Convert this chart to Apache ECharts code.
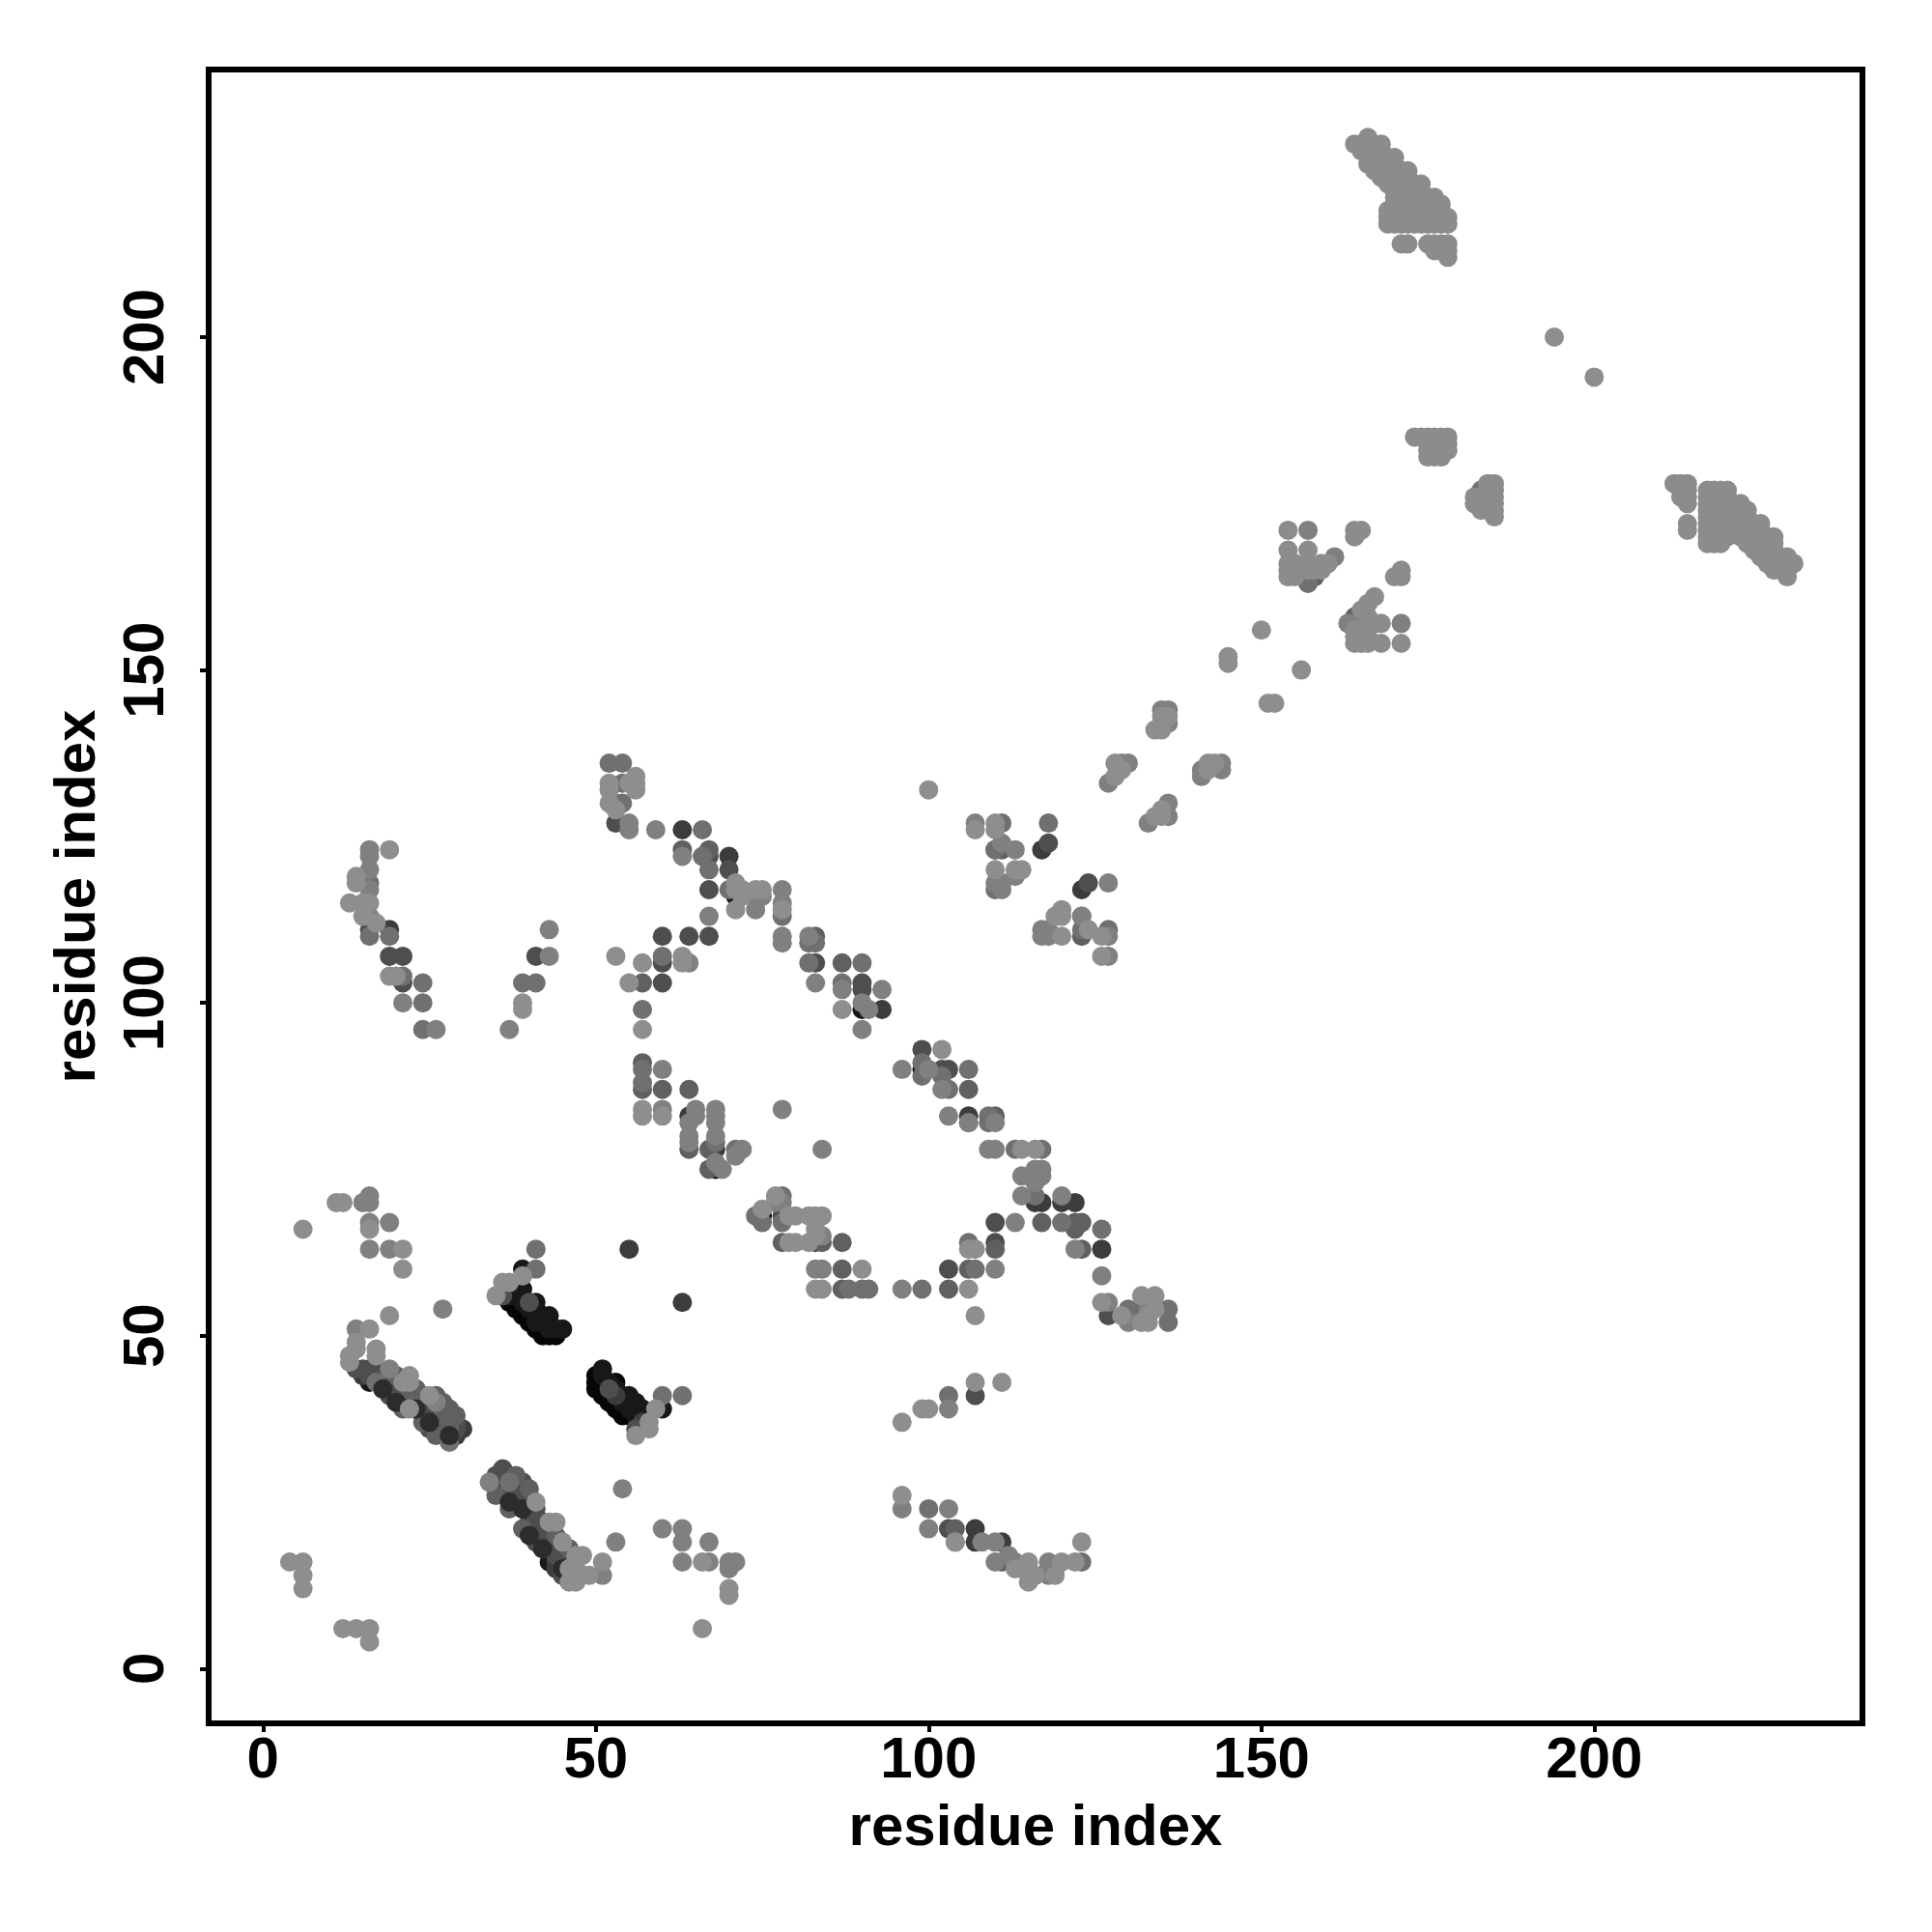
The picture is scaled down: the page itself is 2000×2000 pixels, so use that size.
<!DOCTYPE html>
<html>
<head>
<meta charset="utf-8">
<style>html,body{margin:0;padding:0;background:#fff}#c{width:2000px;height:2000px}</style>
<script src="https://cdn.jsdelivr.net/npm/echarts@6/dist/echarts.min.js"></script>
</head>
<body>
<div id="c"></div>
<script>
const axisTitle = 'residue index';
const tickValues = [0, 50, 100, 150, 200];

// Contacts as [residue i, residue j], grouped by grey level (darkest first).
const contactsGrey05 = [[38,54],[37,55],[38,55],[39,53],[40,52],[41,51],[42,53],[42,50],[43,50],[44,50],[50,44],[50,43],[50,42],[51,41],[52,40],[53,43],[53,39],[54,38],[75,68],[39,54],[40,53],[41,52],[42,51],[51,43],[51,42],[52,41],[53,40],[54,39],[55,38]];
const contactsGrey20 = [[39,60],[39,57],[38,57],[37,56],[41,55],[43,53],[45,51],[41,52],[51,45],[55,41],[57,39],[60,39],[56,38],[16,43],[20,41],[24,39],[26,37],[27,36],[37,26],[39,24],[44,19],[43,16],[68,75],[71,116],[90,99],[99,90],[39,56],[39,55],[40,54],[41,54],[42,52],[43,51],[44,51],[38,56],[51,44],[52,43],[52,42],[53,42],[54,41],[54,40],[55,40],[55,39],[56,40]];
const contactsGrey35 = [[53,41],[57,37],[19,42],[28,35],[29,35],[30,36],[36,27],[42,22],[43,19],[45,16],[64,83],[68,78],[117,70],[116,70],[123,117],[117,123],[126,63],[63,126],[63,55],[55,63],[70,122],[19,111],[106,83],[93,99],[111,19],[107,21],[107,19],[122,70],[120,70],[15,44],[18,43],[18,42],[21,40],[23,40],[23,39],[25,38],[25,37],[27,37],[28,37],[38,26],[38,25],[40,24],[40,23],[42,20],[42,19],[44,16],[44,15],[46,15]];
const contactsGrey4e = [[40,55],[36,56],[52,42],[56,36],[14,45],[17,45],[19,41],[36,30],[35,29],[35,28],[39,25],[41,23],[41,22],[40,21],[41,19],[44,17],[45,14],[83,64],[78,68],[103,60],[110,64],[110,67],[127,53],[107,41],[103,21],[53,127],[60,110],[64,110],[67,110],[67,117],[60,106],[60,103],[67,122],[70,120],[83,106],[90,103],[90,102],[102,90],[103,90],[99,93],[16,111],[19,107],[21,107],[21,103],[41,107],[118,124],[124,118],[15,45],[16,45],[16,44],[18,44],[19,44],[19,43],[20,43],[20,42],[21,42],[21,41],[22,42],[23,41],[24,40],[25,40],[25,39],[26,39],[26,38],[27,39],[28,38],[25,36],[26,36],[29,36],[29,37],[24,38],[36,29],[36,28],[37,29],[37,27],[38,28],[38,27],[39,26],[39,28],[40,26],[40,25],[41,24],[41,21],[42,21],[42,18],[43,21],[43,20],[43,18],[44,18],[45,18],[45,17],[45,15],[46,14]];
const contactsGrey60 = [[87,57],[103,57],[87,60],[106,60],[78,64],[84,64],[87,64],[117,67],[122,67],[123,67],[122,66],[110,63],[123,63],[35,26],[37,24],[40,27],[39,21],[38,29],[21,39],[24,37],[26,35],[29,38],[28,36],[27,38],[22,41],[20,44],[27,40],[111,16],[104,21],[123,110],[110,123],[111,123],[67,123],[63,123],[57,91],[57,103],[64,87],[60,87],[106,87],[87,106],[83,110],[110,83],[64,78],[67,78],[67,75],[57,87],[158,164],[164,158],[22,40],[23,42],[24,41],[26,41],[28,39],[44,20],[46,18]];
const contactsGrey70 = [[41,63],[41,60],[63,41],[60,41],[17,43],[28,34],[37,28],[78,67],[78,71],[88,57],[90,57],[91,57],[99,57],[107,60],[103,41],[100,24],[123,16],[75,67],[74,68],[52,136],[54,136],[53,130],[54,130],[54,133],[66,126],[66,122],[67,120],[70,117],[78,113],[60,107],[57,99],[57,90],[57,88],[71,78],[68,79],[83,109],[82,109],[82,106],[90,106],[87,103],[99,91],[99,89],[102,89],[103,87],[106,90],[109,83],[109,82],[106,82],[116,71],[117,78],[113,78],[16,118],[16,110],[19,110],[21,104],[24,103],[24,100],[24,96],[39,103],[41,103],[110,117],[111,127],[118,127],[123,111],[127,111],[136,54],[136,52],[132,54],[130,54],[126,66],[120,67],[106,64],[157,164],[157,163],[110,123],[123,113],[177,183],[183,177]];
const contactsBandDark = [[18,42],[20,40],[23,39],[25,37],[28,35],[37,25],[39,24],[40,20],[42,18],[45,15]];
const contactsGrey80 = [[16,71],[15,70],[16,70],[16,67],[19,67],[16,63],[19,63],[27,54],[14,51],[54,27],[34,28],[19,45],[53,19],[60,21],[63,21],[63,19],[67,19],[63,16],[67,16],[70,16],[71,16],[70,15],[51,14],[26,40],[103,39],[96,24],[103,24],[100,21],[104,19],[108,19],[110,19],[110,16],[112,17],[113,16],[118,16],[118,15],[119,15],[118,14],[83,60],[84,60],[96,57],[110,60],[113,67],[122,63],[126,59],[127,55],[130,52],[133,54],[84,65],[63,122],[64,106],[67,113],[55,126],[55,127],[59,126],[74,116],[74,114],[75,116],[78,117],[78,115],[78,110],[78,109],[82,110],[71,77],[68,76],[78,84],[78,70],[77,70],[84,78],[83,103],[87,102],[93,102],[90,100],[91,99],[90,96],[96,90],[100,90],[102,87],[106,82],[109,78],[110,78],[110,82],[116,75],[117,75],[114,74],[116,74],[117,74],[114,71],[120,71],[116,73],[16,120],[16,122],[16,123],[16,113],[16,117],[21,100],[26,96],[37,96],[43,107],[43,111],[60,84],[60,90],[64,82],[64,80],[64,79],[65,83],[65,84],[68,84],[68,83],[68,82],[68,80],[69,75],[72,78],[103,83],[107,127],[110,118],[111,124],[111,118],[111,117],[113,123],[113,119],[127,118],[117,111],[118,111],[117,110],[118,110],[123,113],[127,110],[127,107],[133,127],[136,128],[136,130],[127,133],[129,136],[130,136],[135,144],[136,144],[136,142],[141,134],[141,135],[144,136],[144,135],[163,157],[165,157],[171,157],[157,171],[161,167]];
const contactsGrey8c = [[4,16],[6,16],[6,14],[6,12],[12,6],[14,6],[16,6],[16,4],[6,66],[11,70],[12,70],[16,66],[21,63],[21,60],[19,53],[16,51],[14,49],[14,48],[13,47],[13,46],[17,48],[17,47],[22,44],[22,43],[21,43],[22,39],[25,41],[35,56],[36,58],[37,58],[39,59],[59,39],[58,37],[58,36],[56,35],[41,25],[43,22],[44,22],[45,19],[47,17],[48,17],[47,15],[48,14],[49,14],[51,16],[46,13],[47,13],[47,16],[46,15],[66,16],[70,12],[70,11],[66,6],[96,37],[99,39],[100,39],[107,43],[111,43],[96,26],[104,19],[113,15],[114,15],[115,16],[115,15],[115,13],[116,14],[119,14],[120,16],[122,16],[123,19],[83,57],[84,57],[90,60],[106,57],[107,53],[107,63],[106,63],[126,55],[129,53],[132,56],[134,56],[132,52],[133,52],[133,53],[134,54],[75,69],[79,68],[80,68],[82,68],[83,68],[84,68],[79,64],[80,64],[82,64],[83,65],[83,66],[77,71],[52,133],[52,132],[56,134],[56,133],[56,132],[55,133],[52,130],[53,129],[71,118],[71,117],[72,117],[72,116],[71,114],[74,117],[75,117],[78,114],[53,107],[57,106],[63,107],[63,106],[55,103],[57,96],[57,84],[57,83],[60,83],[100,132],[14,119],[14,118],[13,115],[15,115],[16,115],[15,113],[17,112],[19,104],[20,104],[19,123],[39,100],[39,99],[87,99],[102,93],[114,78],[116,78],[110,126],[110,127],[107,126],[110,120],[113,120],[114,120],[120,114],[119,113],[120,113],[120,110],[124,111],[126,110],[126,107],[134,128],[135,129],[135,128],[128,134],[128,136],[129,135],[142,136],[143,136],[142,135],[134,141],[135,141],[135,143],[136,143],[145,151],[145,152],[150,156],[156,150],[151,145],[152,145],[194,200],[200,194]];

const blobGreyMid = [[154,171],[154,168],[157,168],[154,166],[154,165],[154,164],[155,166],[155,165],[155,164],[157,166],[157,165],[158,165],[159,166],[160,166],[159,165],[164,171],[165,171],[164,170],[171,165],[170,164],[171,164],[167,161],[166,160],[165,159],[166,158],[166,157],[166,156],[168,157],[164,154],[165,154],[166,154],[168,154],[171,154],[164,155],[165,155],[166,155],[165,156],[164,156],[175,182],[176,182],[177,182],[173,185],[174,185],[175,185],[176,185],[177,185],[178,185],[175,184],[176,184],[177,184],[178,184],[175,183],[176,183],[178,183],[184,178],[185,178],[184,177],[185,177],[182,176],[183,176],[184,176],[185,176],[182,175],[183,175],[184,175],[185,175],[183,174],[184,174],[185,174],[185,173]];
const blobUpperA = [[166,230],[164,229],[165,229],[166,229],[167,229],[168,229],[165,228],[166,228],[167,228],[168,228],[166,227],[167,227],[168,227],[169,227],[170,227],[166,226],[167,226],[168,226],[169,226],[170,226],[167,225],[168,225],[169,225],[170,225],[171,225],[172,225],[168,224],[169,224],[170,224],[171,224],[172,224],[169,223],[170,223],[171,223],[172,223],[173,223],[174,223],[170,222],[171,222],[172,222],[173,222],[174,222],[170,221],[171,221],[172,221],[173,221],[174,221],[175,221],[176,221]];
const blobUpperB = [[170,220],[171,220],[172,220],[173,220],[174,220],[175,220],[176,220],[177,220],[169,219],[170,219],[171,219],[172,219],[173,219],[174,219],[175,219],[176,219],[177,219],[169,218],[170,218],[171,218],[172,218],[173,218],[174,218],[175,218],[176,218],[177,218],[178,218],[169,217],[170,217],[171,217],[172,217],[173,217],[174,217],[175,217],[176,217],[177,217],[178,217],[171,214],[172,214],[175,214],[176,214],[177,214],[178,214],[176,213],[177,213],[178,213],[178,212]];
const blobLowerA = [[212,178],[213,178],[214,178],[213,177],[214,177],[213,176],[214,176],[214,175],[214,172],[214,171],[217,177],[218,177],[219,177],[220,177],[217,176],[218,176],[219,176],[220,176],[217,175],[218,175],[219,175],[220,175],[221,175],[222,175],[217,174],[218,174],[219,174],[220,174],[221,174],[222,174],[223,174],[217,173],[218,173],[219,173],[220,173],[221,173],[222,173],[223,173]];
const blobLowerB = [[217,172],[218,172],[219,172],[220,172],[221,172],[222,172],[223,172],[224,172],[225,172],[217,171],[218,171],[219,171],[220,171],[222,171],[223,171],[224,171],[225,171],[217,170],[218,170],[219,170],[220,170],[222,170],[223,170],[224,170],[225,170],[226,170],[227,170],[217,169],[218,169],[219,169],[223,169],[224,169],[225,169],[226,169],[227,169],[224,168],[225,168],[226,168],[227,168],[225,167],[226,167],[227,167],[228,167],[229,167],[226,166],[227,166],[228,166],[229,166],[230,166],[227,165],[228,165],[229,165],[229,164]];

const groups = [
  [contactsGrey05, '#060606'],
  [contactsGrey20, '#181818'],
  [contactsGrey35, '#3c3c3c'],
  [contactsGrey4e, '#4e4e4e'],
  [contactsGrey60, '#606060'],
  [contactsGrey70, '#707070'],
  [contactsBandDark, '#2c2c2c'],
  [contactsGrey80, '#808080'],
  [contactsGrey8c, '#8e8e8e'],
  [blobGreyMid, '#8c8c8c'],
  [blobUpperA, '#8c8c8c'],
  [blobUpperB, '#8c8c8c'],
  [blobLowerA, '#8c8c8c'],
  [blobLowerB, '#8c8c8c']
];

const FONT = 'Liberation Sans';
function axis(extra) {
  return Object.assign({
    type: 'value',
    name: axisTitle,
    nameLocation: 'middle',
    nameTextStyle: { fontFamily: FONT, fontWeight: 'bold', fontSize: 60, color: '#000' },
    splitLine: { show: false },
    axisLine: { show: false, onZero: false },
    axisTick: { show: true, length: 9, inside: false, customValues: tickValues, lineStyle: { color: '#000', width: 4 } }
  }, extra);
}
const chart = echarts.init(document.getElementById('c'), null, { renderer: 'canvas' });
chart.setOption({
  animation: false,
  backgroundColor: '#fff',
  grid: { left: 216, top: 72, width: 1712, height: 1712, show: true, borderColor: '#000', borderWidth: 6, backgroundColor: 'transparent', z: 10 },
  xAxis: axis({
    min: -8.17, max: 240.3, nameGap: 79,
    axisLabel: { customValues: tickValues, margin: 9, fontFamily: FONT, fontWeight: 'bold', fontSize: 60, color: '#000', showMinLabel: true, showMaxLabel: true }
  }),
  yAxis: axis({
    min: -8.23, max: 240.2, nameGap: 105,
    axisLabel: { customValues: tickValues, rotate: 90, margin: 34, fontFamily: FONT, fontWeight: 'bold', fontSize: 60, color: '#000', showMinLabel: true, showMaxLabel: true }
  }),
  series: groups.map(([data, color], i) => ({
    type: 'scatter',
    data: data,
    symbol: 'circle',
    symbolSize: 20,
    z: 2 + i,
    silent: true,
    clip: true,
    itemStyle: { color: color, opacity: 1 }
  }))
});
</script>
</body>
</html>
